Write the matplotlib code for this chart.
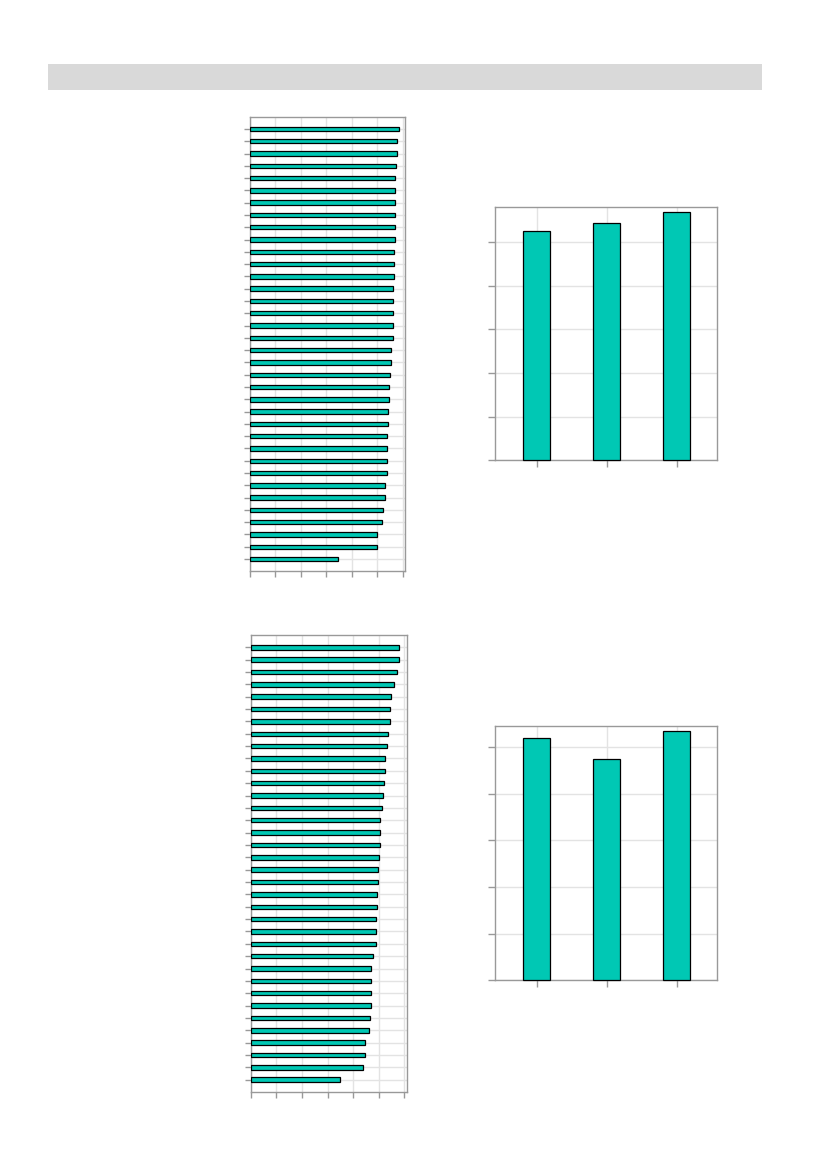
import matplotlib
matplotlib.use("Agg")
import matplotlib.pyplot as plt
from matplotlib.patches import Rectangle

# ---------------- data ----------------
top_left_values = [5.86, 5.78, 5.78, 5.74, 5.70, 5.70, 5.70, 5.70, 5.70, 5.70,
                   5.66, 5.66, 5.66, 5.62, 5.62, 5.62, 5.62, 5.62, 5.54, 5.54,
                   5.50, 5.47, 5.47, 5.43, 5.43, 5.39, 5.39, 5.39, 5.39, 5.31,
                   5.31, 5.23, 5.19, 5.00, 5.00, 3.47]
bottom_left_values = [5.78, 5.78, 5.73, 5.59, 5.47, 5.43, 5.43, 5.38, 5.34, 5.26,
                      5.26, 5.22, 5.18, 5.14, 5.06, 5.06, 5.06, 5.02, 4.98, 4.98,
                      4.95, 4.95, 4.91, 4.91, 4.91, 4.79, 4.71, 4.71, 4.71, 4.71,
                      4.67, 4.63, 4.48, 4.48, 4.40, 3.50]
top_right_values = [5.25, 5.44, 5.69]
bottom_right_values = [5.18, 4.75, 5.34]
x_ticks_h = [0, 1, 2, 3, 4, 5, 6]
y_ticks_v = [0, 1, 2, 3, 4, 5]

# ---------------- style ----------------
BAR = "#00c8b4"
SPINE = "#999999"
GRID = "#e3e3e3"
W, H = 827, 1169

fig = plt.figure(figsize=(W / 100, H / 100), dpi=100)


def rect(left, top, right, bottom):
    return [left / W, 1 - bottom / H, (right - left) / W, (bottom - top) / H]


def style(ax):
    for s in ax.spines.values():
        s.set_color(SPINE)
        s.set_linewidth(1.0)
    ax.tick_params(colors=SPINE, length=4, width=1.0, labelleft=False,
                   labelbottom=False)
    ax.grid(True, color=GRID, linewidth=1.0)
    ax.set_axisbelow(True)


# header bar
fig.patches.append(Rectangle((48 / W, 1 - 90.3 / H), (762 - 48) / W,
                             (90.3 - 63.7) / H, transform=fig.transFigure,
                             facecolor="#d9d9d9", edgecolor="none"))


def hbar_panel(r, values, xmax):
    ax = fig.add_axes(r)
    n = len(values)
    pos = list(range(n))
    ax.barh(pos, values, height=0.36, color=BAR, edgecolor="black",
            linewidth=0.9, zorder=3)
    ax.set_ylim(n - 0.03, -0.97)
    ax.set_xlim(0, xmax)
    ax.set_yticks(pos)
    ax.set_xticks(x_ticks_h)
    style(ax)
    return ax


def vbar_panel(r, values, ymax):
    ax = fig.add_axes(r)
    pos = list(range(len(values)))
    ax.bar(pos, values, width=0.39, color=BAR, edgecolor="black",
           linewidth=0.9, zorder=3, clip_on=False)
    ax.set_xlim(-0.59, 2.58)
    ax.set_ylim(0, ymax)
    ax.set_xticks(pos)
    ax.set_yticks(y_ticks_v)
    style(ax)
    ax.tick_params(length=5)
    return ax


hbar_panel(rect(249.5, 117, 405, 571), top_left_values, 6.08)
hbar_panel(rect(250.7, 635.3, 407.3, 1091.7), bottom_left_values, 6.117)
vbar_panel(rect(495.3, 207.3, 717.3, 460.3), top_right_values, 5.80)
vbar_panel(rect(495.3, 726.3, 717.3, 980.3), bottom_right_values, 5.44)

fig.savefig("out.png", dpi=100)
